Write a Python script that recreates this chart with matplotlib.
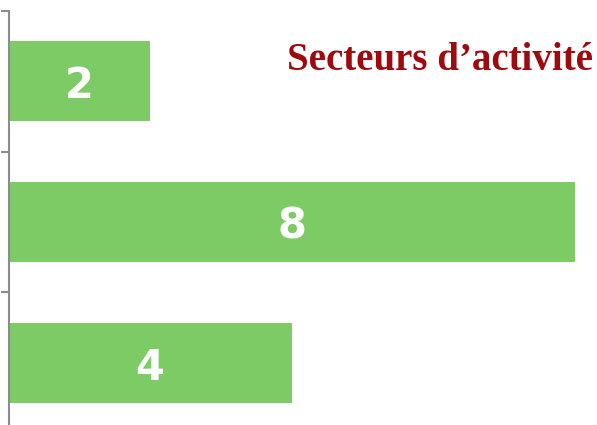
import matplotlib.pyplot as plt

categories = ["A", "B", "C"]
values = [2, 8, 4]
title = "Secteurs d\u2019activit\u00e9"

fig = plt.figure(figsize=(5.97, 4.25), dpi=100)
ax = fig.add_axes([8.5 / 597, 1 - 433 / 425, 566 / 597, 422 / 425])

pos = list(range(len(categories)))
ax.barh(pos, values, height=0.57, color="#7DCB65")
ax.set_ylim(len(categories) - 0.5, -0.5)
ax.set_xlim(0, 8)

for p, v in zip(pos, values):
    ax.text(v / 2, p + 0.12, str(v), ha="center", va="baseline", color="white",
            fontsize=30, fontweight="bold", family="DejaVu Sans")

ax.set_yticks([-0.5, 0.5, 1.5, 2.5])
ax.set_yticklabels([])
ax.set_xticks([])
for s in ["top", "right", "bottom"]:
    ax.spines[s].set_visible(False)
ax.spines["left"].set_color("#8c8c8c")
ax.spines["left"].set_linewidth(1.5)
ax.tick_params(axis="y", length=6, width=1.5, color="#8c8c8c", direction="out")

fig.text(287 / 597, 1 - 70 / 425, title, ha="left", va="baseline",
         color="#9E0B0F", fontsize=28, fontweight="bold", family="Liberation Serif")

fig.savefig("out.png", dpi=100)
